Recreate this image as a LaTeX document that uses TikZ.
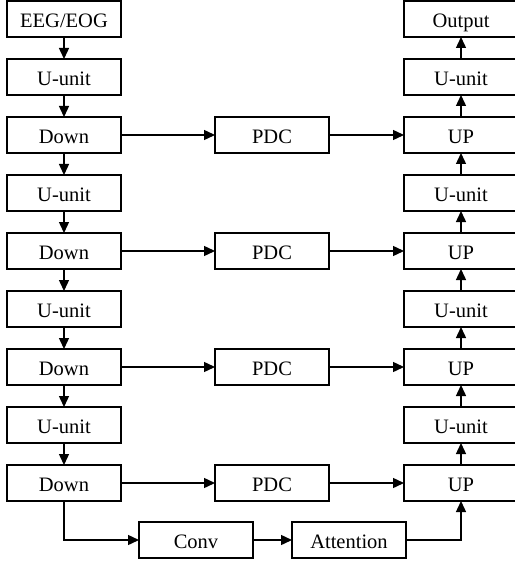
\documentclass[tikz,border=0pt]{standalone}
\usepackage{fontspec}
\setmainfont{Liberation Serif}
\usetikzlibrary{arrows.meta, positioning}

\begin{document}
\begin{tikzpicture}[
    x=1pt, y=1pt,
    node distance=22pt,
    box/.style={
        rectangle,
        draw,
        line width=1.4pt,
        minimum width=114pt,
        minimum height=36pt,
        inner sep=0pt,
        outer sep=0pt,
        text height=17.5pt,
        text depth=0pt,
        align=center,
        font=\fontsize{20.5}{24}\selectfont
    },
    arrow/.style={
        -{Triangle[length=11pt, width=10pt]},
        line width=1.4pt
    }
]
\useasboundingbox (0,0) rectangle (514,-564);

% === Encoder ===
\node[box] (input) at (64,-19) {EEG/EOG};
\node[box, below=of input] (enc1) {U-unit};
\node[box, below=of enc1] (down1) {Down};
\node[box, below=of down1] (enc2) {U-unit};
\node[box, below=of enc2] (down2) {Down};
\node[box, below=of down2] (enc3) {U-unit};
\node[box, below=of enc3] (down3) {Down};
\node[box, below=of down3] (enc4) {U-unit};
\node[box, below=of enc4] (down4) {Down};

% === Skip connections ===
\node[box, right=94pt of down1] (pdc1) {PDC};
\node[box, right=94pt of down2] (pdc2) {PDC};
\node[box, right=94pt of down3] (pdc3) {PDC};
\node[box, right=94pt of down4] (pdc4) {PDC};

% === Decoder ===
\node[box, right=75pt of pdc1] (up1) {UP};
\node[box, right=75pt of pdc2] (up2) {UP};
\node[box, right=75pt of pdc3] (up3) {UP};
\node[box, right=75pt of pdc4] (up4) {UP};
\node[box, above=of up1] (dec0) {U-unit};
\node[box, above=of dec0] (output) {Output};
\node[box, above=of up2] (dec1) {U-unit};
\node[box, above=of up3] (dec2) {U-unit};
\node[box, above=of up4] (dec3) {U-unit};

% === Bottleneck ===
\node[box, below right=21pt and 18pt of down4] (conv) {Conv};
\node[box, right=39pt of conv] (attn) {Attention};

% === Arrows ===
\draw[arrow] (input) -- (enc1);
\draw[arrow] (enc1) -- (down1);
\draw[arrow] (down1) -- (enc2);
\draw[arrow] (enc2) -- (down2);
\draw[arrow] (down2) -- (enc3);
\draw[arrow] (enc3) -- (down3);
\draw[arrow] (down3) -- (enc4);
\draw[arrow] (enc4) -- (down4);

\draw[arrow] (down1) -- (pdc1);
\draw[arrow] (down2) -- (pdc2);
\draw[arrow] (down3) -- (pdc3);
\draw[arrow] (down4) -- (pdc4);
\draw[arrow] (pdc1) -- (up1);
\draw[arrow] (pdc2) -- (up2);
\draw[arrow] (pdc3) -- (up3);
\draw[arrow] (pdc4) -- (up4);

\draw[arrow] (up4) -- (dec3);
\draw[arrow] (dec3) -- (up3);
\draw[arrow] (up3) -- (dec2);
\draw[arrow] (dec2) -- (up2);
\draw[arrow] (up2) -- (dec1);
\draw[arrow] (dec1) -- (up1);
\draw[arrow] (up1) -- (dec0);
\draw[arrow] (dec0) -- (output);

\draw[arrow] (down4.south) |- (conv.west);
\draw[arrow] (conv) -- (attn);
\draw[arrow] (attn.east) -| (up4.south);
\end{tikzpicture}
\end{document}
